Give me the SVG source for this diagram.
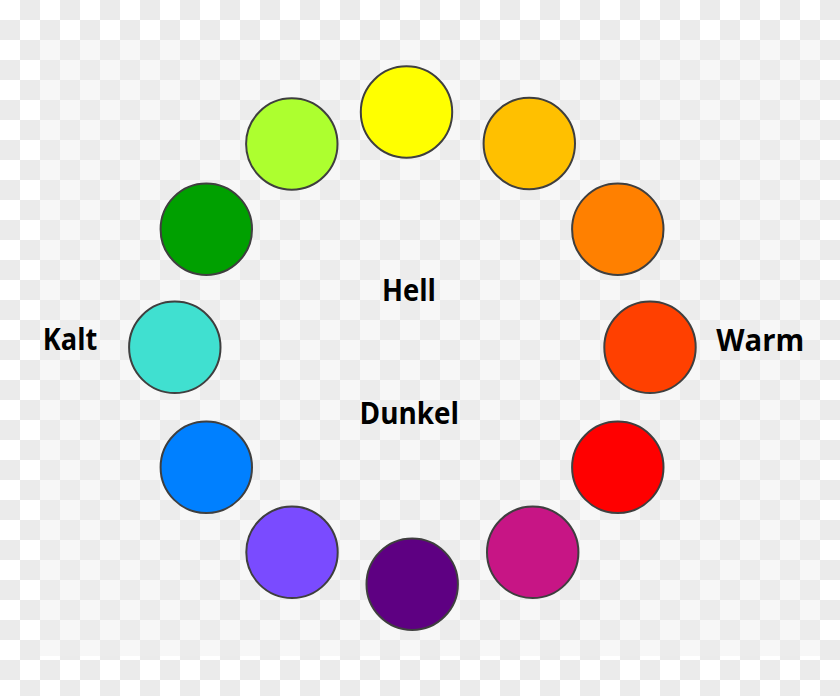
<svg xmlns="http://www.w3.org/2000/svg" width="840" height="696" viewBox="0 0 840 696">
  <style>
    .dot { stroke: #3f3f3f; stroke-width: 2; }
    .lbl { font-family: "Open Sans", "Liberation Sans", sans-serif; font-weight: 700; font-size: 30px; fill: #000000; }
  </style>
  <defs>
    <pattern id="checkOuter" x="0" y="0" width="40" height="40" patternUnits="userSpaceOnUse">
      <rect x="0" y="0" width="40" height="40" fill="#ffffff"/>
      <rect x="20" y="0" width="20" height="20" fill="#ebebeb"/>
      <rect x="0" y="20" width="20" height="20" fill="#ebebeb"/>
    </pattern>
    <pattern id="checkInner" x="0" y="0" width="40" height="40" patternUnits="userSpaceOnUse">
      <rect x="0" y="0" width="40" height="40" fill="#f7f7f7"/>
      <rect x="20" y="0" width="20" height="20" fill="#ececec"/>
      <rect x="0" y="20" width="20" height="20" fill="#ececec"/>
    </pattern>
  </defs>

  <g id="background">
    <rect x="0" y="0" width="840" height="696" fill="url(#checkOuter)"/>
    <rect x="40" y="40" width="780" height="616" fill="url(#checkInner)"/>
  </g>

  <g id="wheel">
    <g id="yellow"><circle class="dot" cx="406.5" cy="112" r="45.7" fill="#ffff00"/></g>
    <g id="amber"><circle class="dot" cx="529.3" cy="143.5" r="45.7" fill="#ffc000"/></g>
    <g id="orange"><circle class="dot" cx="617.8" cy="229.2" r="45.7" fill="#ff8000"/></g>
    <g id="red-orange"><circle class="dot" cx="650" cy="347.3" r="45.7" fill="#ff4000"/></g>
    <g id="red"><circle class="dot" cx="617.8" cy="467.3" r="45.7" fill="#ff0000"/></g>
    <g id="magenta"><circle class="dot" cx="532.7" cy="552.3" r="45.7" fill="#c71585"/></g>
    <g id="purple"><circle class="dot" cx="412.2" cy="584.2" r="45.7" fill="#5e0082"/></g>
    <g id="violet"><circle class="dot" cx="292" cy="552.3" r="45.7" fill="#7a4bff"/></g>
    <g id="blue"><circle class="dot" cx="206.3" cy="467.3" r="45.7" fill="#0080ff"/></g>
    <g id="turquoise"><circle class="dot" cx="174.8" cy="347.3" r="45.7" fill="#40e0d0"/></g>
    <g id="green"><circle class="dot" cx="206.3" cy="229.2" r="45.7" fill="#00a000"/></g>
    <g id="yellow-green"><circle class="dot" cx="291.8" cy="144" r="45.7" fill="#adff2f"/></g>
  </g>

  <g id="labels">
    <g id="label-hell"><text class="lbl" x="382" y="300.5" textLength="54" lengthAdjust="spacingAndGlyphs">Hell</text></g>
    <g id="label-dunkel"><text class="lbl" x="359.5" y="424.3" textLength="99.5" lengthAdjust="spacingAndGlyphs">Dunkel</text></g>
    <g id="label-kalt"><text class="lbl" x="42.8" y="349.5" textLength="54.5" lengthAdjust="spacingAndGlyphs">Kalt</text></g>
    <g id="label-warm"><text class="lbl" x="716.2" y="350.5" textLength="88" lengthAdjust="spacingAndGlyphs">Warm</text></g>
  </g>
</svg>
